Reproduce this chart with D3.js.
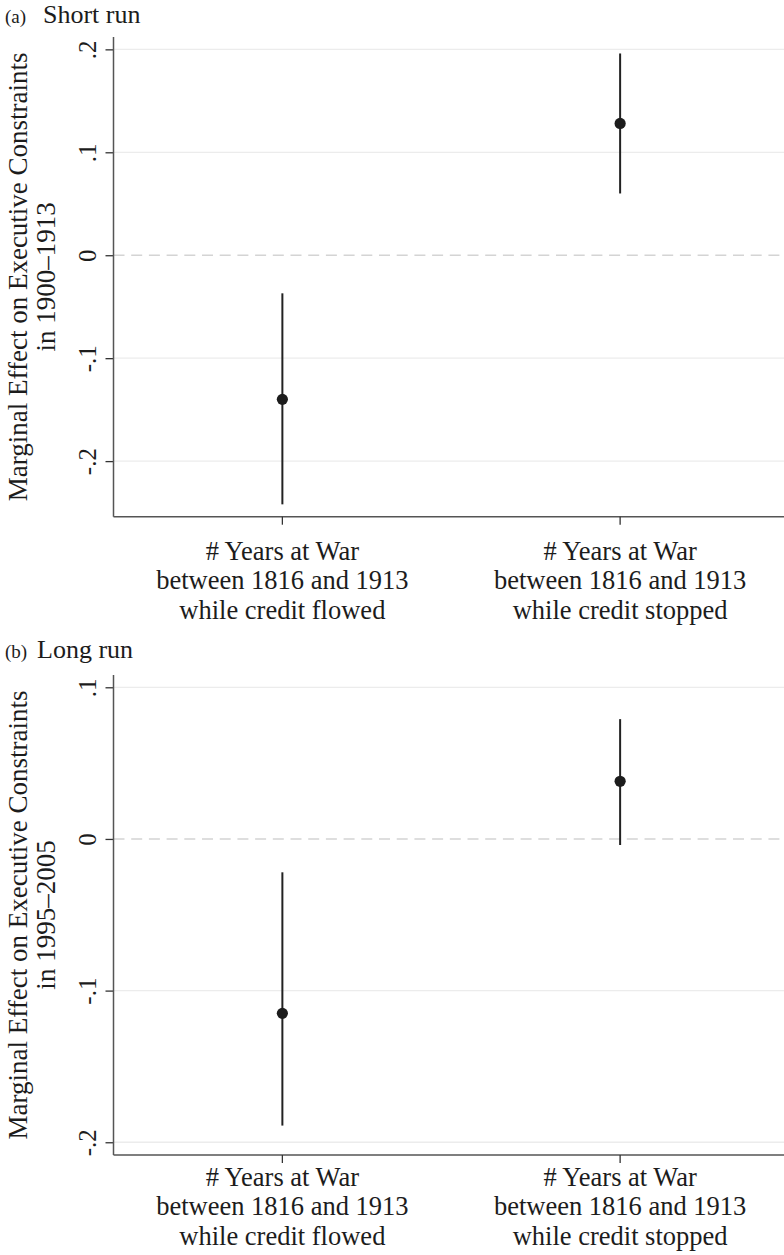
<!DOCTYPE html>
<html>
<head>
<meta charset="utf-8">
<script src="https://cdn.jsdelivr.net/npm/d3@7"></script>
<style>
  html, body { margin: 0; padding: 0; background: #fff; }
  svg { display: block; font-family: "Liberation Serif", "Times New Roman", serif; }
</style>
</head>
<body>
<svg id="chart" width="784" height="1255"></svg>
<script>
// Category labels (one entry per line of the label)
const categoryLabels = [
  ["# Years at War", "between 1816 and 1913", "while credit flowed"],
  ["# Years at War", "between 1816 and 1913", "while credit stopped"]
];
const categoryPos = [1, 2];

// Panel (a): short run, marginal effects with confidence bounds
const shortEstimate = [-0.140, 0.128];
const shortLower    = [-0.242, 0.060];
const shortUpper    = [-0.037, 0.196];
const shortTicks    = [0.2, 0.1, 0, -0.1, -0.2];

// Panel (b): long run
const longEstimate = [-0.115, 0.038];
const longLower    = [-0.189, -0.004];
const longUpper    = [-0.022, 0.079];
const longTicks    = [0.1, 0, -0.1, -0.2];

const panels = [
  { tag: "(a)", title: "Short run", period: "in 1900\u20131913",
    est: shortEstimate, lo: shortLower, hi: shortUpper, ticks: shortTicks,
    domain: [-0.254, 0.212], top: 37, bottom: 516.7,
    titleY: 23, tagX: 5, titleX: 43, labelY: 560 },
  { tag: "(b)", title: "Long run", period: "in 1995\u20132005",
    est: longEstimate, lo: longLower, hi: longUpper, ticks: longTicks,
    domain: [-0.2084, 0.1081], top: 675, bottom: 1155,
    titleY: 658, tagX: 5, titleX: 37, labelY: 1186 }
];

const svg = d3.select("#chart");
const W = 784;
const axisX = 113.5;
const ink = "#1c1c1c";
const serif = "Liberation Serif, Times New Roman, serif";

// Stata-style tick labels: ".2", "-.1", "0"
const fmt = v => {
  if (Math.abs(v) < 1e-9) return "0";
  const s = Math.abs(v).toFixed(1).replace(/^0/, "");
  return (v < 0 ? "-" : "") + s;
};

const x = d3.scaleLinear().domain([0.5, 2.5]).range([axisX, 789]);

panels.forEach(p => {
  const g = svg.append("g");
  const y = d3.scaleLinear().domain(p.domain).range([p.bottom, p.top]);

  // panel heading
  g.append("text").attr("x", p.tagX).attr("y", p.titleY)
    .attr("font-size", 19).attr("fill", ink).text(p.tag);
  g.append("text").attr("x", p.titleX).attr("y", p.titleY)
    .attr("font-size", 26).attr("fill", ink).text(p.title);

  // grid lines
  g.append("g").selectAll("line")
    .data(p.ticks.filter(t => t !== 0))
    .join("line")
    .attr("x1", axisX).attr("x2", W)
    .attr("y1", d => y(d)).attr("y2", d => y(d))
    .attr("stroke", "#ececec").attr("stroke-width", 1.3);

  // zero reference line
  g.append("line")
    .attr("x1", axisX).attr("x2", W)
    .attr("y1", y(0)).attr("y2", y(0))
    .attr("stroke", "#d4d4d4").attr("stroke-width", 1.5)
    .attr("stroke-dasharray", "11,6.7");

  // y axis: ticks from d3, labels rotated to read upward
  const yAxis = d3.axisLeft(y).tickValues(p.ticks).tickSize(8).tickPadding(10).tickFormat(fmt);
  const ya = g.append("g").attr("transform", `translate(${axisX},0)`).call(yAxis)
    .attr("font-family", serif);
  ya.select(".domain").remove();
  ya.selectAll(".tick line").attr("stroke", "#333").attr("stroke-width", 1.3);
  ya.selectAll(".tick text")
    .attr("font-size", 25).attr("fill", ink)
    .attr("x", null).attr("dy", null)
    .attr("transform", "translate(-18,0) rotate(-90)")
    .attr("text-anchor", "middle");

  // axis frame lines
  g.append("line").attr("x1", axisX).attr("x2", axisX)
    .attr("y1", p.top).attr("y2", p.bottom)
    .attr("stroke", "#555").attr("stroke-width", 1.5);
  g.append("line").attr("x1", axisX).attr("x2", W)
    .attr("y1", p.bottom).attr("y2", p.bottom)
    .attr("stroke", "#555").attr("stroke-width", 1.5);

  // x ticks
  g.append("g").selectAll("line").data(categoryPos).join("line")
    .attr("x1", d => x(d)).attr("x2", d => x(d))
    .attr("y1", p.bottom).attr("y2", p.bottom + 8)
    .attr("stroke", "#333").attr("stroke-width", 1.3);

  // category labels
  categoryLabels.forEach((lines, i) => {
    const t = g.append("text").attr("text-anchor", "middle")
      .attr("font-size", 26.5).attr("fill", ink);
    lines.forEach((ln, j) => {
      t.append("tspan").attr("x", x(categoryPos[i])).attr("y", p.labelY + j * 29.3).text(ln);
    });
  });

  // y title (two lines, rotated)
  const cy = (p.top + p.bottom) / 2;
  [["Marginal Effect on Executive Constraints", 27], [p.period, 55]].forEach(([s, bx]) => {
    g.append("text")
      .attr("transform", `translate(${bx},${cy}) rotate(-90)`)
      .attr("text-anchor", "middle").attr("font-size", 27).attr("fill", ink)
      .text(s);
  });

  // confidence intervals
  g.append("g").selectAll("line").data(categoryPos).join("line")
    .attr("x1", d => x(d)).attr("x2", d => x(d))
    .attr("y1", (d, i) => y(p.lo[i])).attr("y2", (d, i) => y(p.hi[i]))
    .attr("stroke", "#222").attr("stroke-width", 2);

  // point estimates
  g.append("g").selectAll("circle").data(categoryPos).join("circle")
    .attr("cx", d => x(d)).attr("cy", (d, i) => y(p.est[i]))
    .attr("r", 5.6).attr("fill", "#1c1c1c");
});
</script>
</body>
</html>
